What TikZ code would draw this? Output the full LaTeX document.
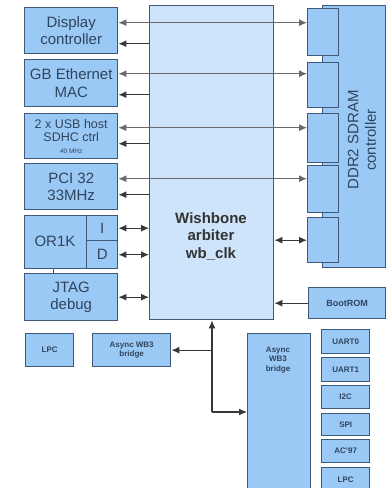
\documentclass[tikz,border=0pt]{standalone}
\usepackage{fontspec}
\setmainfont{Liberation Sans}
\usetikzlibrary{arrows.meta}
\definecolor{bfill}{RGB}{155,201,246}
\definecolor{afill}{RGB}{206,228,250}
\definecolor{bline}{RGB}{62,90,120}
\definecolor{btext}{RGB}{48,68,92}
\definecolor{arrcol}{RGB}{55,55,55}
\begin{document}
\begin{tikzpicture}[x=1pt,y=-1pt,
  blk/.style={draw=bline, fill=bfill, line width=1.4pt, text=btext, align=center,
    inner sep=0pt, anchor=north west, font=\fontsize{15}{17.5}\selectfont},
  arbbox/.style={blk, fill=afill},
  small/.style={blk, font=\bfseries\fontsize{8}{9.5}\selectfont},
  lbl/.style={text=btext, align=center, inner sep=0pt, font=\fontsize{15}{17.5}\selectfont},
  arr/.style={draw=arrcol, line width=1.1pt, -{Latex[length=8pt,width=7pt]}},
  darr/.style={draw=arrcol, line width=1.1pt, {Latex[length=8pt,width=7pt]}-{Latex[length=8pt,width=7pt]}},
  thru/.style={draw=arrcol!75, line width=1pt, {Latex[length=8pt,width=7pt]}-{Latex[length=8pt,width=7pt]}},
]
\useasboundingbox (0,0) rectangle (386,488);

% left column
\node[blk, minimum width=93pt, minimum height=46pt] (disp) at (24,7) {Display\\controller};
\node[blk, minimum width=93pt, minimum height=47pt] (gbe) at (24,59) {GB Ethernet\\MAC};
\node[blk, minimum width=93pt, minimum height=45pt, font=\fontsize{12.5}{13}\selectfont] (usb) at (24,113)
  {2 x USB host\\SDHC ctrl\\[-1pt]{\fontsize{6.5}{7}\selectfont 40 MHz}};
\node[blk, minimum width=93pt, minimum height=46pt] (pci) at (24,163) {PCI 32\\33MHz};
\node[blk, minimum width=93pt, minimum height=53pt] (or1k) at (24,215) {};
\node[lbl] (or1kl) at (55,241) {OR1K};
\node[blk, minimum width=31pt, minimum height=25pt] (iport) at (86,215) {I};
\node[blk, minimum width=31pt, minimum height=28pt] (dport) at (86,240) {D};
\node[blk, minimum width=93pt, minimum height=47pt] (jtag) at (24,273) {JTAG\\debug};
\draw[bline, line width=0.8pt] ([xshift=-17.5pt]or1k.south) -- ([xshift=-17.5pt]or1k.south |- jtag.north);

% arbiter
\node[arbbox, minimum width=124pt, minimum height=314pt] (arb) at (149,5) {};
\node[lbl, font=\bfseries\fontsize{15}{17.5}\selectfont, text=black!80] (arbl) at (211,236) {Wishbone\\arbiter\\wb\_clk};

% DDR2 controller
\node[blk, minimum width=63pt, minimum height=262pt] (ddr) at (322,5) {};
\node[lbl, rotate=90] (ddrl) at (362,140) {DDR2 SDRAM\\controller};
\node[blk, minimum width=31pt, minimum height=47pt] (p1) at (307,8) {};
\node[blk, minimum width=31pt, minimum height=45pt] (p2) at (307,62) {};
\node[blk, minimum width=31pt, minimum height=49pt] (p3) at (307,113) {};
\node[blk, minimum width=31pt, minimum height=47pt] (p4) at (307,165) {};
\node[blk, minimum width=31pt, minimum height=45pt] (p5) at (307,217) {};

% BootROM
\node[blk, minimum width=77pt, minimum height=31pt, font=\bfseries\fontsize{9}{10}\selectfont] (boot) at (308,287) {BootROM};

% bottom
\node[small, minimum width=48pt, minimum height=33pt] (lpca) at (25,333) {LPC};
\node[small, minimum width=78pt, minimum height=33pt] (asynca) at (92,333) {Async WB3\\bridge};
\node[blk, minimum width=63pt, minimum height=160pt] (asyncb) at (247,333) {};
\node[lbl, font=\bfseries\fontsize{8}{9.5}\selectfont] (asyncbl) at (278,360) {Async\\WB3\\bridge};

\node[small, minimum width=48pt, minimum height=24pt] (uart0) at (321,329) {UART0};
\node[small, minimum width=48pt, minimum height=24pt] (uart1) at (321,357) {UART1};
\node[small, minimum width=48pt, minimum height=23pt] (i2c) at (321,385) {I2C};
\node[small, minimum width=48pt, minimum height=22pt] (spi) at (321,413) {SPI};
\node[small, minimum width=48pt, minimum height=23pt] (ac97) at (321,439) {AC'97};
\node[small, minimum width=48pt, minimum height=24pt] (lpcb) at (321,467) {LPC};

% connectors left
\draw[thru] ([yshift=8pt]disp.east) -- ([yshift=8pt]disp.east -| p1.west);
\draw[arr] ([yshift=-13pt]disp.east -| arb.west) -- ([yshift=-13pt]disp.east);
\draw[thru] ([yshift=9.5pt]gbe.east) -- ([yshift=9.5pt]gbe.east -| p2.west);
\draw[arr] ([yshift=-11.5pt]gbe.east -| arb.west) -- ([yshift=-11.5pt]gbe.east);
\draw[thru] ([yshift=8.5pt]usb.east) -- ([yshift=8.5pt]usb.east -| p3.west);
\draw[arr] ([yshift=-7.5pt]usb.east -| arb.west) -- ([yshift=-7.5pt]usb.east);
\draw[thru] ([yshift=8pt]pci.east) -- ([yshift=8pt]pci.east -| p4.west);
\draw[arr] ([yshift=-8pt]pci.east -| arb.west) -- ([yshift=-8pt]pci.east);
\draw[darr] (iport.east) -- (iport.east -| arb.west);
\draw[darr] (dport.east) -- (dport.east -| arb.west);
\draw[darr] (jtag.east) -- (jtag.east -| arb.west);
\draw[darr] (p5.west -| arb.east) -- (p5.west);
\draw[arr] (boot.west) -- (boot.west -| arb.east);

% bottom connectors
\coordinate (j1) at (212,412);
\draw[arr] (j1) -- (j1 |- arb.south);
\draw[arr] (j1) -- (j1 -| asyncb.west);
\draw[arr] (asynca.east -| j1) -- (asynca.east);
\end{tikzpicture}
\end{document}
